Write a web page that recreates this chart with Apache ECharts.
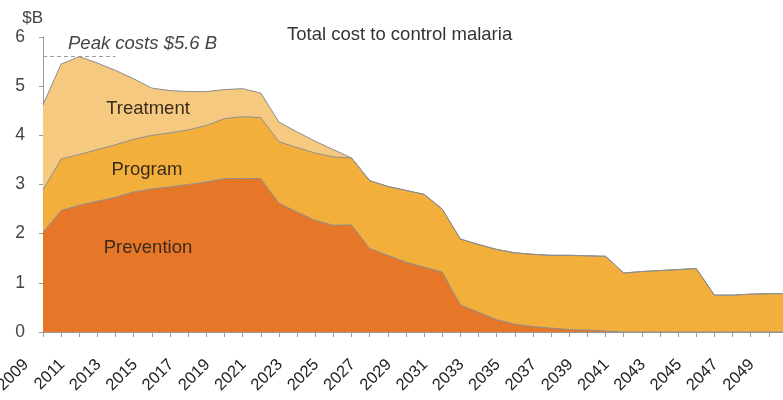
<!DOCTYPE html>
<html>
<head>
<meta charset="utf-8">
<script src="https://cdn.jsdelivr.net/npm/echarts@6/dist/echarts.min.js"></script>
<style>
  html, body { margin: 0; padding: 0; background: #fff; }
  #chart { width: 783px; height: 400px; }
</style>
</head>
<body>
<div id="chart"></div>
<script>
// Years on the category axis (labels shown every other year)
const years = [];
for (let y = 2009; y <= 2050; y++) years.push(String(y));

// Annual cost components, $ billions
const prevention = [
  2.03, 2.47, 2.58, 2.66, 2.74, 2.85, 2.91, 2.95, 3.00, 3.05,
  3.12, 3.12, 3.12, 2.62, 2.44, 2.27, 2.17, 2.18, 1.70, 1.56,
  1.42, 1.32, 1.22, 0.55, 0.40, 0.25, 0.16, 0.11, 0.08, 0.05,
  0.04, 0.02, 0, 0, 0, 0, 0, 0, 0, 0,
  0, 0
];
const program = [
  0.86, 1.05, 1.03, 1.05, 1.07, 1.07, 1.09, 1.10, 1.11, 1.15,
  1.22, 1.26, 1.24, 1.25, 1.31, 1.37, 1.39, 1.36, 1.38, 1.40,
  1.46, 1.48, 1.28, 1.34, 1.38, 1.43, 1.45, 1.47, 1.48, 1.51,
  1.51, 1.52, 1.20, 1.23, 1.25, 1.27, 1.29, 0.75, 0.75, 0.77,
  0.78, 0.78
];
const treatment = [
  1.73, 1.93, 1.99, 1.76, 1.51, 1.23, 0.96, 0.86, 0.78, 0.69,
  0.59, 0.57, 0.50, 0.40, 0.32, 0.24, 0.15, 0, 0, 0,
  0, 0, 0, 0, 0, 0, 0, 0, 0, 0,
  0, 0, 0, 0, 0, 0, 0, 0, 0, 0,
  0, 0
];

// Peak marker: total cost at its highest point
const peakValue = 5.6;
const peakSpan = ['2009', '2013'];

const FONT = '"Liberation Sans", Arial, sans-serif';
const edge = { color: '#8c8c8c', width: 1 };

function band(name, data, color) {
  return {
    name: name,
    type: 'line',
    stack: 'total',
    data: data,
    symbol: 'none',
    smooth: false,
    lineStyle: edge,
    areaStyle: { color: color, opacity: 1 },
    emphasis: { disabled: true },
    silent: true
  };
}

const chart = echarts.init(document.getElementById('chart'), null, { renderer: 'canvas' });

const treatmentSeries = band('Treatment', treatment, '#F6C981');
treatmentSeries.markLine = {
  silent: true,
  symbol: 'none',
  label: { show: false },
  lineStyle: { color: '#9a9a9a', type: [4, 3], width: 1 },
  data: [[{ coord: [peakSpan[0], peakValue] }, { coord: [peakSpan[1], peakValue] }]]
};

// In-chart band names
function bandLabel(text, x, y) {
  return {
    type: 'text', x: x, y: y, z: 100, silent: true,
    style: { text: text, font: '18.5px ' + FONT, fill: '#3b2b1c', align: 'center', verticalAlign: 'middle' }
  };
}

chart.setOption({
  animation: false,
  backgroundColor: '#ffffff',
  title: {
    text: 'Total cost to control malaria',
    left: 282,
    top: 20,
    textStyle: { fontFamily: FONT, fontSize: 18.5, fontWeight: 'normal', color: '#333' }
  },
  grid: { left: 43, right: -4, top: 37, bottom: 68, outerBoundsMode: 'none' },
  xAxis: {
    type: 'category',
    data: years,
    boundaryGap: false,
    axisLine: { lineStyle: { color: '#9a9a9a', width: 1 } },
    axisTick: { show: true, interval: 0, length: 5, lineStyle: { color: '#9a9a9a' } },
    axisLabel: {
      interval: 1,
      rotate: 45,
      margin: 13,
      padding: [0, 24, 31, 0],
      fontFamily: FONT,
      fontSize: 16.5,
      color: '#222'
    },
    splitLine: { show: false }
  },
  yAxis: {
    type: 'value',
    min: 0,
    max: 6,
    interval: 1,
    name: '$B',
    nameLocation: 'end',
    nameGap: 10,
    nameTextStyle: { fontFamily: FONT, fontSize: 17, color: '#444', align: 'right' },
    axisLine: { show: true, lineStyle: { color: '#9a9a9a', width: 1 } },
    axisTick: { show: true, length: 4, lineStyle: { color: '#9a9a9a' } },
    axisLabel: { margin: 18, fontFamily: FONT, fontSize: 17.5, color: '#444' },
    splitLine: { show: false }
  },
  series: [
    band('Prevention', prevention, '#E67628'),
    band('Program', program, '#F3AF3B'),
    treatmentSeries
  ],
  graphic: [
    { type: 'text', x: 68, y: 44, z: 100, silent: true,
      style: { text: 'Peak costs $5.6 B', font: 'italic 18.5px ' + FONT, fill: '#444', verticalAlign: 'middle' } },
    bandLabel('Treatment', 148, 109),
    bandLabel('Program', 147, 170),
    bandLabel('Prevention', 148, 248)
  ]
});
</script>
</body>
</html>
